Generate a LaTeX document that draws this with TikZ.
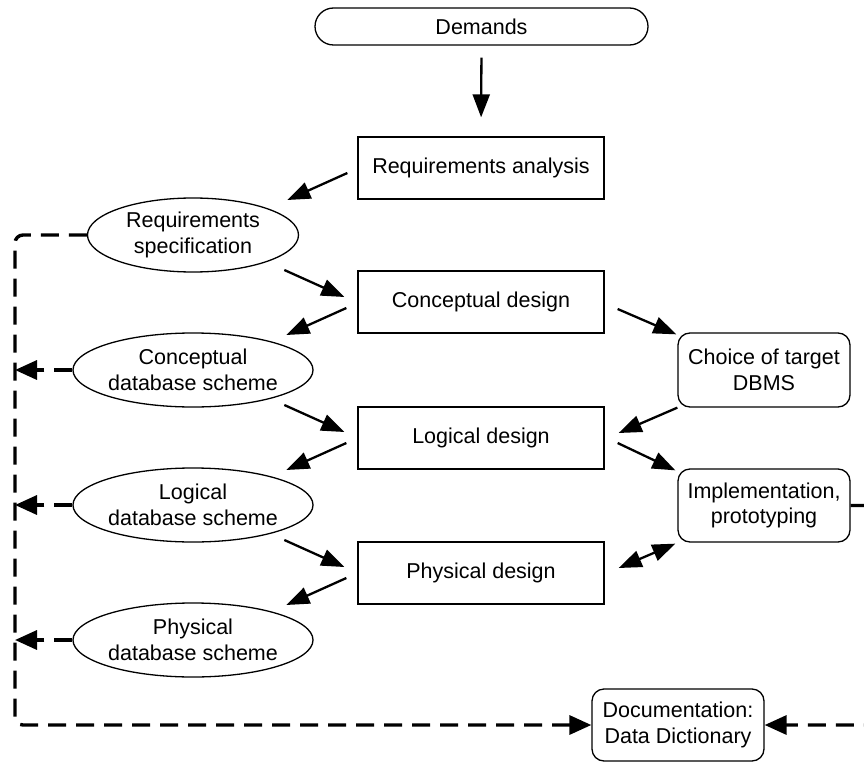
\documentclass[tikz,border=0pt]{standalone}
\usepackage{fontspec}
\setmainfont{Liberation Sans}
\usetikzlibrary{arrows.meta,shapes.geometric,calc}

\tikzset{
  every node/.style={font=\fontsize{21.5}{25.5}\selectfont, align=center, inner sep=0pt},
  procbox/.style={draw, line width=1.3pt, minimum width=246, minimum height=62},
  docell/.style={draw, ellipse, line width=1.3pt, minimum width=211, minimum height=74},
  sidebox/.style={draw, rounded corners=12, line width=1.3pt, minimum width=172, minimum height=74},
  flow/.style={line width=2.3pt, -{Triangle[length=23pt, width=17pt]}},
  twoway/.style={line width=2.3pt, {Triangle[length=23pt, width=17pt]}-{Triangle[length=23pt, width=17pt]}},
  docflow/.style={line width=3.4pt, dash pattern=on 18pt off 10pt, rounded corners=8pt},
  docarrow/.style={docflow, -{Triangle[length=22pt, width=19pt]}},
}

\begin{document}
\begin{tikzpicture}[x=1pt, y=-1pt]
  \useasboundingbox (0,0) rectangle (864,762);
  \clip (0,0) rectangle (864,762);

  % input
  \node[draw, line width=1.3pt, rounded corners=18.5, minimum width=333, minimum height=37] (dem) at (481.5,26.5) {Demands};

  % design phases
  \node[procbox] (ra) at (481,168) {Requirements analysis};
  \node[procbox] (cd) at (481,302) {Conceptual design};
  \node[procbox] (ld) at (481,438) {Logical design};
  \node[procbox] (pd) at (481,573) {Physical design};

  % results of each phase
  \node[docell] (rs) at (193,235) {Requirements\\specification};
  \node[docell] (cs) at (193,370) {Conceptual\\database scheme};
  \node[docell] (ls) at (193,505) {Logical\\database scheme};
  \node[docell] (ps) at (193,640) {Physical\\database scheme};

  % side activities
  \node[sidebox] (ch) at (764,370) {Choice of target\\DBMS};
  \node[sidebox, minimum height=73] (im) at (764,505.5) {Implementation,\\prototyping};
  \node[sidebox, minimum height=72] (doc) at (678,725) {Documentation:\\Data Dictionary};

  \coordinate (bl) at (15,725);
  \coordinate (br) at (900,725);

  % main flow
  \draw[flow, shorten <=12pt, shorten >=19pt] (dem.south) -- (ra.north);
  \draw[flow] ($(ra.west)+(-10,5)$) -- ($(ra.west)+(-70,32)$);
  \draw[flow] ($(cd.west)+(-73,-32)$) -- ($(cd.west)+(-13,-5)$);
  \draw[flow] ($(cd.west)+(-11,6)$) -- ($(cd.west)+(-71,33)$);
  \draw[flow] ($(ld.west)+(-73,-33)$) -- ($(ld.west)+(-13,-6)$);
  \draw[flow] ($(ld.west)+(-11,5)$) -- ($(ld.west)+(-71,32)$);
  \draw[flow] ($(pd.west)+(-73,-33)$) -- ($(pd.west)+(-13,-6)$);
  \draw[flow] ($(pd.west)+(-11,5)$) -- ($(pd.west)+(-71,32)$);

  % right-hand flow
  \draw[flow] ($(cd.east)+(13,7)$) -- ($(ch.north west)+(-1,2)$);
  \draw[flow] ($(ch.south west)+(0,0)$) -- ($(ld.east)+(14,-5)$);
  \draw[flow] ($(ld.east)+(13,5)$) -- ($(im.north west)+(-2,2)$);
  \draw[twoway] ($(pd.east)+(14,-5)$) -- ($(im.south west)+(-2,1)$);

  % documentation paths
  \draw[docarrow] (rs.west) -| (bl) -- (doc.west);
  \draw[docarrow] (cs.west) -- (cs.west -| bl);
  \draw[docarrow] (ls.west) -- (ls.west -| bl);
  \draw[docarrow] (ps.west) -- (ps.west -| bl);
  \draw[docarrow] (im.east) -| (br) -- (doc.east);
\end{tikzpicture}
\end{document}
